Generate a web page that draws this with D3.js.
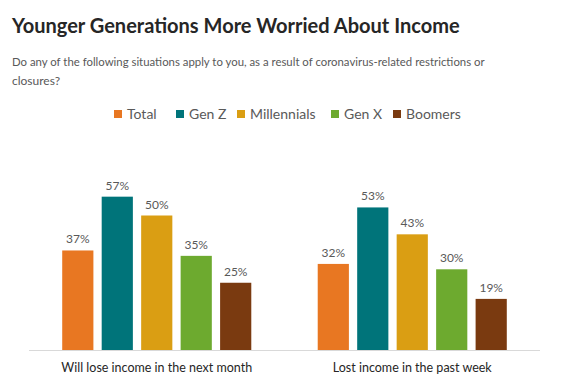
<!DOCTYPE html>
<html><head><meta charset="utf-8">
<script src="https://cdn.jsdelivr.net/npm/d3@7"></script>
<style>body{margin:0;background:#fff}svg{display:block}</style>
</head><body>
<script>
const categories = ["Will lose income in the next month", "Lost income in the past week"];
const seriesNames = ["Total", "Gen Z", "Millennials", "Gen X", "Boomers"];
const seriesColors = ["#E87722", "#00747A", "#DA9E13", "#6DAA2F", "#7A3A10"];
const total = [0.37, 0.32];
const genZ = [0.57, 0.53];
const millennials = [0.50, 0.43];
const genX = [0.35, 0.30];
const boomers = [0.25, 0.19];
const seriesValues = [total, genZ, millennials, genX, boomers];
const title = "Younger Generations More Worried About Income";
const subtitleLines = ["Do any of the following situations apply to you, as a result of coronavirus-related restrictions or", "closures?"];

const W = 566, H = 390;
const FONT = "Lato, 'Open Sans', sans-serif";
const svg = d3.select("body").append("svg").attr("width", W).attr("height", H);

function fitText(sel, target) {
  const w = sel.node().getComputedTextLength();
  const fs = parseFloat(sel.attr("font-size"));
  sel.attr("font-size", fs * target / w);
}

const t = svg.append("text").attr("x", 12).attr("y", 33).attr("font-family", FONT)
  .attr("font-weight", "bold").attr("font-size", 20).attr("fill", "#262626").text(title);
fitText(t, 448);

subtitleLines.forEach((s, i) => {
  const st = svg.append("text").attr("x", 12).attr("y", 66 + i * 19).attr("font-family", FONT)
    .attr("font-size", 12).attr("fill", "#595959").text(s);
  if (i === 0) fitText(st, 473);
});

// Legend
const legendX = [114, 176, 237, 331, 393];
const lg = svg.append("g");
seriesNames.forEach((n, i) => {
  lg.append("rect").attr("x", legendX[i]).attr("y", 110).attr("width", 8).attr("height", 8).attr("fill", seriesColors[i]);
  lg.append("text").attr("x", legendX[i] + 13).attr("y", 119).attr("font-family", FONT)
    .attr("font-size", 14).attr("fill", "#595959").text(n);
});

const x0 = d3.scaleBand().domain(categories).range([29, 540]).paddingInner(0.26).paddingOuter(0.13);
const x1 = d3.scaleBand().domain(seriesNames).range([0, x0.bandwidth()]).paddingInner(0.21);
const y = d3.scaleLinear().domain([0, 0.6]).range([350, 188.6]);

const groups = svg.append("g").selectAll("g").data(categories).join("g")
  .attr("transform", d => `translate(${x0(d)},0)`);

groups.each(function(cat, ci) {
  const g = d3.select(this);
  seriesNames.forEach((s, si) => {
    const v = seriesValues[si][ci];
    g.append("rect").attr("x", x1(s)).attr("y", y(v)).attr("width", x1.bandwidth())
      .attr("height", y(0) - y(v)).attr("fill", seriesColors[si]);
    g.append("text").attr("x", x1(s) + x1.bandwidth() / 2).attr("y", y(v) - 7)
      .attr("text-anchor", "middle").attr("font-family", FONT).attr("font-size", 12)
      .attr("fill", "#595959").text(d3.format(".0%")(v));
  });
});

const axis = svg.append("g").attr("transform", "translate(0,350)")
  .call(d3.axisBottom(x0).tickSize(0).tickPadding(13));
axis.select(".domain").attr("stroke", "#d9d9d9").attr("d", "M29,0.5H540");
axis.selectAll("text").attr("font-family", FONT).attr("font-size", 12.5).attr("fill", "#262626");
</script>
</body></html>
